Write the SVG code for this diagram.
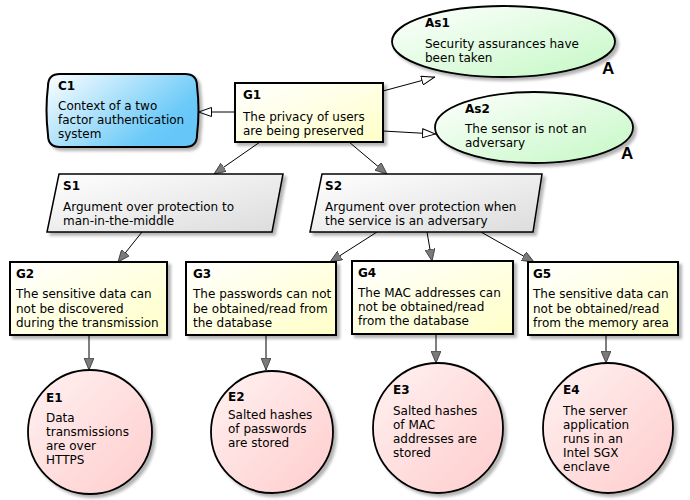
<svg xmlns="http://www.w3.org/2000/svg" width="690" height="500" viewBox="0 0 690 500">
<style>
text{font-family:"DejaVu Sans",Verdana,sans-serif;font-size:12px;fill:#000}
.h{font-weight:bold}
.big{font-family:"Liberation Sans",Arial,sans-serif;font-weight:bold;font-size:17px}
.goal{fill:url(#gG);stroke:#000;stroke-width:2}
.ctx{fill:url(#gC);stroke:#000;stroke-width:2}
.str{fill:url(#gS);stroke:#000;stroke-width:1.5}
.asm{fill:url(#gA);stroke:#000;stroke-width:1.8}
.ev{fill:url(#gE);stroke:#000;stroke-width:1.8}
.sh{filter:url(#shadow)}
.c{stroke:#000;stroke-width:1;fill:none}
.sup{marker-end:url(#filled)}
.ctxl{marker-end:url(#hollow)}
</style>
<defs>
<linearGradient id="gG" x1="0" y1="0" x2="1" y2="1"><stop offset="0" stop-color="#ffffff"/><stop offset="1" stop-color="#ffffc8"/></linearGradient>
<linearGradient id="gC" x1="0" y1="0" x2="1" y2="0.6"><stop offset="0" stop-color="#ffffff"/><stop offset="0.85" stop-color="#6ccaf8"/><stop offset="1" stop-color="#66c6f8"/></linearGradient>
<linearGradient id="gS" x1="0" y1="0" x2="1" y2="1"><stop offset="0" stop-color="#ffffff"/><stop offset="1" stop-color="#dcdcdc"/></linearGradient>
<linearGradient id="gA" x1="0" y1="0" x2="1" y2="1"><stop offset="0" stop-color="#ffffff"/><stop offset="1" stop-color="#c4f8c4"/></linearGradient>
<linearGradient id="gE" x1="0" y1="0" x2="1" y2="1"><stop offset="0" stop-color="#fff2f2"/><stop offset="1" stop-color="#ffcccc"/></linearGradient>
<filter id="shadow" x="-10%" y="-10%" width="130%" height="130%">
<feGaussianBlur in="SourceAlpha" stdDeviation="1.5"/>
<feOffset dx="3" dy="3" result="b"/>
<feComponentTransfer><feFuncA type="linear" slope="0.3"/></feComponentTransfer>
<feMerge><feMergeNode/><feMergeNode in="SourceGraphic"/></feMerge>
</filter>
<marker id="filled" viewBox="0 0 12 10" refX="12" refY="5" markerWidth="12" markerHeight="10" markerUnits="userSpaceOnUse" orient="auto">
<path d="M0,0 L12,5 L0,10 z" fill="#7a7a7a" stroke="#333" stroke-width="0.8"/>
</marker>
<marker id="hollow" viewBox="0 0 14 10" refX="14" refY="5" markerWidth="14" markerHeight="10" markerUnits="userSpaceOnUse" orient="auto">
<path d="M0.5,0.5 L13.5,5 L0.5,9.5 z" fill="#fff" stroke="#000" stroke-width="1"/>
</marker>
</defs>

<g id="connectors">
<line class="c ctxl" x1="235" y1="112" x2="198" y2="112"/>
<line class="c ctxl" x1="383" y1="91" x2="435" y2="77"/>
<line class="c ctxl" x1="383" y1="131" x2="436" y2="134"/>
<line class="c sup" x1="260" y1="142" x2="214" y2="174"/>
<line class="c sup" x1="349" y1="142" x2="387" y2="174"/>
<line class="c sup" x1="142" y1="232" x2="118" y2="262"/>
<line class="c sup" x1="377" y1="232" x2="330" y2="262"/>
<line class="c sup" x1="427" y1="232" x2="432" y2="261"/>
<line class="c sup" x1="481" y1="232" x2="534" y2="262"/>
<line class="c sup" x1="89" y1="335" x2="89" y2="370"/>
<line class="c sup" x1="266" y1="335" x2="266" y2="370"/>
<line class="c sup" x1="436" y1="335" x2="436" y2="363"/>
<line class="c sup" x1="606" y1="335" x2="606" y2="363"/>
</g>

<g id="C1">
<path class="ctx sh" d="M60,74 L185,74 Q197,74 197,86 Q200,110 197,135 Q197,147 185,147 L60,147 Q48,147 48,135 Q45,110 48,86 Q48,74 60,74 z"/>
<text class="h" x="58" y="90">C1</text>
<text x="58" y="110">Context of a two</text>
<text x="58" y="124">factor authentication</text>
<text x="58" y="138">system</text>
</g>

<g id="G1">
<rect class="goal sh" x="235" y="83" width="148" height="59"/>
<text class="h" x="243" y="99">G1</text>
<text x="243" y="121">The privacy of users</text>
<text x="243" y="135">are being preserved</text>
</g>

<g id="As1">
<ellipse class="asm sh" cx="503.5" cy="41.5" rx="111.5" ry="35.5"/>
<text class="h" x="425" y="27">As1</text>
<text x="425" y="48">Security assurances have</text>
<text x="425" y="62">been taken</text>
<text class="big" x="602" y="74">A</text>
</g>

<g id="As2">
<ellipse class="asm sh" cx="534" cy="127.5" rx="99" ry="35.5"/>
<text class="h" x="465" y="113">As2</text>
<text x="465" y="133">The sensor is not an</text>
<text x="465" y="147">adversary</text>
<text class="big" x="621" y="159">A</text>
</g>

<g id="S1">
<polygon class="str sh" points="59,174 283,174 272,232 47,232"/>
<text class="h" x="63" y="190">S1</text>
<text x="63" y="211">Argument over protection to</text>
<text x="63" y="225">man-in-the-middle</text>
</g>

<g id="S2">
<polygon class="str sh" points="322,174 542,174 533,232 310,232"/>
<text class="h" x="325" y="190">S2</text>
<text x="325" y="211">Argument over protection when</text>
<text x="325" y="225">the service is an adversary</text>
</g>

<g id="G2">
<rect class="goal sh" x="10" y="262" width="157" height="73"/>
<text class="h" x="16" y="278">G2</text>
<text x="16" y="298">The sensitive data can</text>
<text x="16" y="312.5">not be discovered</text>
<text x="16" y="327">during the transmission</text>
</g>

<g id="G3">
<rect class="goal sh" x="186" y="262" width="150" height="73"/>
<text class="h" x="193" y="278">G3</text>
<text x="193" y="298">The passwords can not</text>
<text x="193" y="312.5">be obtained/read from</text>
<text x="193" y="327">the database</text>
</g>

<g id="G4">
<rect class="goal sh" x="352" y="261" width="161" height="73"/>
<text class="h" x="358" y="277">G4</text>
<text x="358" y="297">The MAC addresses can</text>
<text x="358" y="311">not be obtained/read</text>
<text x="358" y="325">from the database</text>
</g>

<g id="G5">
<rect class="goal sh" x="528" y="262" width="150" height="73"/>
<text class="h" x="533" y="278">G5</text>
<text x="533" y="298">The sensitive data can</text>
<text x="533" y="312.5">not be obtained/read</text>
<text x="533" y="327">from the memory area</text>
</g>

<g id="E1">
<circle class="ev sh" cx="90" cy="432" r="62"/>
<text class="h" x="46" y="402">E1</text>
<text x="46" y="422">Data</text>
<text x="46" y="436">transmissions</text>
<text x="46" y="450">are over</text>
<text x="46" y="464">HTTPS</text>
</g>

<g id="E2">
<circle class="ev sh" cx="272" cy="432" r="61"/>
<text class="h" x="228" y="401">E2</text>
<text x="228" y="419">Salted hashes</text>
<text x="228" y="433">of passwords</text>
<text x="228" y="447">are stored</text>
</g>

<g id="E3">
<circle class="ev sh" cx="438" cy="428" r="65"/>
<text class="h" x="393" y="394">E3</text>
<text x="393" y="415">Salted hashes</text>
<text x="393" y="429">of MAC</text>
<text x="393" y="443">addresses are</text>
<text x="393" y="457">stored</text>
</g>

<g id="E4">
<circle class="ev sh" cx="608" cy="428" r="65"/>
<text class="h" x="563" y="394">E4</text>
<text x="563" y="415">The server</text>
<text x="563" y="429">application</text>
<text x="563" y="443">runs in an</text>
<text x="563" y="457">Intel SGX</text>
<text x="563" y="471">enclave</text>
</g>
</svg>
